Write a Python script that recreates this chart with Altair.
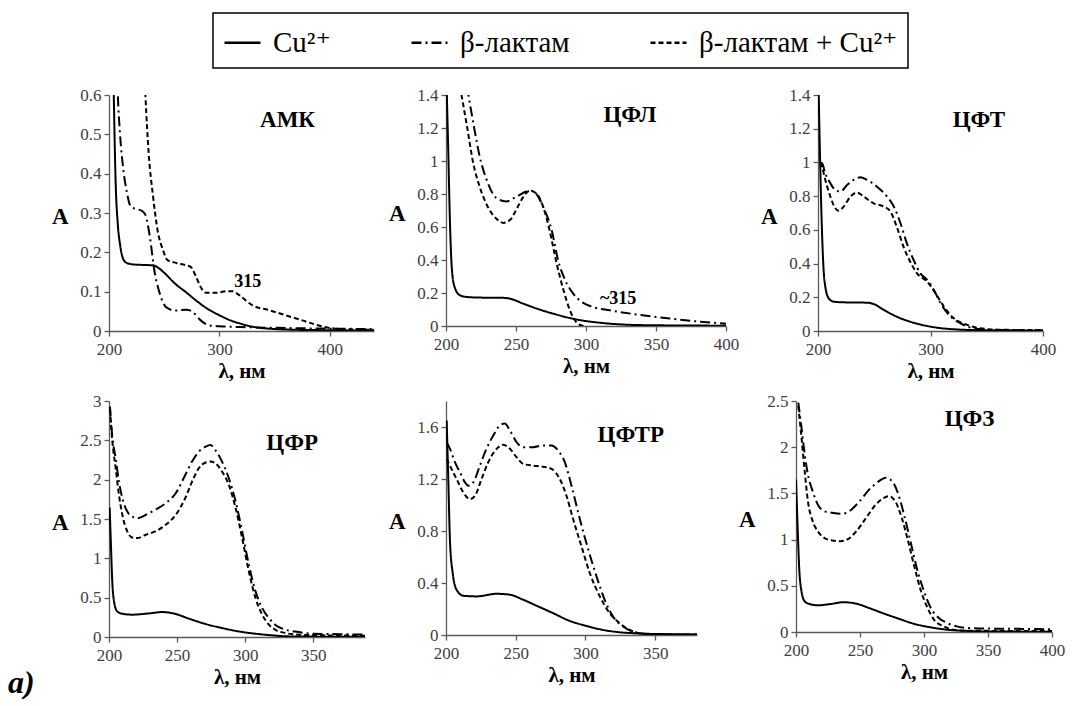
import altair as alt
import pandas as pd

FONT = "Liberation Serif, Times New Roman, DejaVu Serif, serif"
SERIES = ["Cu²⁺", "β-лактам", "β-лактам + Cu²⁺"]
DASHES = [[1, 0], [10, 4, 2, 4], [5, 3]]

# ---------------- АМК ----------------
amk_wl_cu = [202, 204, 206, 208, 210, 212, 215, 220, 230, 240, 245, 250, 260, 270, 280, 290, 300, 310, 320, 330, 340, 350, 370, 400, 440]
amk_a_cu = [1.0, 0.65, 0.38, 0.27, 0.22, 0.19, 0.175, 0.17, 0.168, 0.167, 0.16, 0.148, 0.12, 0.098, 0.075, 0.055, 0.04, 0.027, 0.018, 0.011, 0.007, 0.005, 0.003, 0.002, 0.001]
amk_wl_bl = [206, 208, 210, 213, 216, 220, 225, 230, 233, 237, 241, 246, 252, 260, 270, 276, 283, 291, 300, 320, 350, 400, 440]
amk_a_bl = [0.8, 0.6, 0.5, 0.41, 0.355, 0.315, 0.31, 0.305, 0.295, 0.24, 0.155, 0.095, 0.06, 0.052, 0.054, 0.048, 0.027, 0.014, 0.012, 0.01, 0.008, 0.006, 0.005]
amk_wl_blcu = [231, 233, 236, 240, 244, 249, 253, 261, 270, 274, 279, 283, 288, 297, 306, 312, 318, 330, 345, 360, 375, 390, 405, 440]
amk_a_blcu = [0.75, 0.6, 0.45, 0.34, 0.256, 0.205, 0.18, 0.173, 0.167, 0.163, 0.137, 0.112, 0.097, 0.097, 0.101, 0.101, 0.091, 0.065, 0.053, 0.04, 0.027, 0.014, 0.006, 0.003]

# ---------------- ЦФЛ ----------------
cfl_wl_cu = [200, 201.5, 203, 204, 206, 210, 215, 225, 240, 246, 255, 265, 279, 293, 312, 336, 370, 400]
cfl_a_cu = [1.6, 1.1, 0.58, 0.37, 0.24, 0.186, 0.176, 0.172, 0.171, 0.165, 0.136, 0.105, 0.069, 0.04, 0.018, 0.006, 0.003, 0.002]
cfl_wl_bl = [215, 219.5, 224, 230, 236, 243, 250.5, 257.5, 261, 265, 269.5, 275.5, 280, 285, 291, 298, 305, 317, 336, 360, 384, 400]
cfl_a_bl = [1.45, 1.23, 1.03, 0.865, 0.775, 0.755, 0.785, 0.815, 0.82, 0.795, 0.72, 0.58, 0.40, 0.28, 0.195, 0.14, 0.115, 0.095, 0.07, 0.045, 0.024, 0.014]
cfl_wl_blcu = [210, 215, 219.5, 224, 230, 236, 241, 246, 250.5, 255, 260, 265, 269.5, 274, 279, 284, 288.5, 293, 297, 299]
cfl_a_blcu = [1.45, 1.21, 0.985, 0.845, 0.72, 0.65, 0.625, 0.645, 0.71, 0.78, 0.82, 0.80, 0.72, 0.58, 0.38, 0.215, 0.095, 0.024, 0.003, 0.0]

# ---------------- ЦФТ ----------------
cft_wl_cu = [200.5, 202, 203.6, 205, 206.5, 209.5, 214, 223, 243.6, 249.5, 258.5, 270, 285, 300, 321, 350, 400]
cft_a_cu = [1.45, 0.975, 0.58, 0.36, 0.263, 0.194, 0.174, 0.17, 0.168, 0.16, 0.125, 0.085, 0.049, 0.026, 0.01, 0.004, 0.002]
cft_wl_bl = [202, 203.6, 206.5, 211, 215.4, 220, 225.8, 231.8, 237.7, 243.6, 252.5, 261.4, 267.4, 273.3, 279, 285, 291, 297, 303, 309, 318, 326.7, 335.6, 344.5, 360, 400]
cft_a_bl = [1.0, 0.995, 0.935, 0.876, 0.836, 0.827, 0.866, 0.896, 0.912, 0.896, 0.856, 0.797, 0.738, 0.639, 0.52, 0.421, 0.342, 0.303, 0.243, 0.164, 0.085, 0.045, 0.02, 0.01, 0.006, 0.004]
cft_wl_blcu = [202, 203.6, 206.5, 211, 215.4, 218.4, 222.8, 228.8, 234.7, 240.7, 249.5, 258.5, 264.4, 270, 276, 282, 288, 297, 304.5, 312, 320.8, 332.6, 344.5, 360, 400]
cft_a_blcu = [1.0, 0.975, 0.896, 0.797, 0.728, 0.714, 0.738, 0.797, 0.821, 0.797, 0.757, 0.738, 0.708, 0.619, 0.5, 0.411, 0.342, 0.293, 0.223, 0.144, 0.075, 0.036, 0.016, 0.008, 0.005]

# ---------------- ЦФР ----------------
cfr_wl_cu = [200.5, 201.5, 202.4, 203.7, 206, 209.8, 217, 229.3, 239, 249, 258.7, 271, 283, 295, 307.6, 319.8, 332, 360, 388]
cfr_a_cu = [1.646, 1.13, 0.707, 0.453, 0.326, 0.296, 0.284, 0.3, 0.317, 0.292, 0.233, 0.165, 0.114, 0.072, 0.042, 0.021, 0.008, 0.004, 0.002]
cfr_wl_bl = [200.7, 202.4, 204.9, 207.3, 209.8, 213.4, 217, 220.8, 227, 234, 241.6, 249, 256, 261, 266, 271, 274.6, 278, 283, 288, 293, 297.8, 302.7, 307.6, 312.5, 317.4, 322, 329.6, 339, 349, 361, 388]
cfr_a_bl = [2.93, 2.55, 2.27, 1.976, 1.765, 1.595, 1.532, 1.51, 1.553, 1.617, 1.70, 1.828, 2.06, 2.23, 2.357, 2.42, 2.44, 2.378, 2.23, 2.018, 1.722, 1.342, 0.918, 0.58, 0.368, 0.241, 0.157, 0.093, 0.063, 0.042, 0.038, 0.03]
cfr_wl_blcu = [200.7, 202.4, 204.9, 207.3, 209.8, 213.4, 217, 220.8, 227, 234, 241.6, 249, 256, 261, 266, 271, 274.6, 278, 283, 288, 293, 297.8, 302.7, 307.6, 312.5, 317.4, 322, 329.6, 339, 356.5, 388]
cfr_a_blcu = [2.9, 2.5, 2.146, 1.807, 1.553, 1.342, 1.265, 1.257, 1.3, 1.342, 1.426, 1.553, 1.765, 1.976, 2.146, 2.218, 2.23, 2.21, 2.103, 1.934, 1.638, 1.257, 0.834, 0.495, 0.284, 0.157, 0.093, 0.05, 0.03, 0.021, 0.017]

# ---------------- ЦФТР ----------------
cftr_wl_cu = [200.5, 201.7, 202.9, 204.8, 207.6, 212.4, 222, 236.3, 245.8, 255.4, 265, 276.8, 288.8, 300.7, 312.6, 324.6, 336.5, 348.4, 380]
cftr_a_cu = [1.65, 1.174, 0.71, 0.477, 0.348, 0.302, 0.297, 0.317, 0.31, 0.271, 0.225, 0.168, 0.108, 0.07, 0.039, 0.021, 0.013, 0.008, 0.004]
cftr_wl_bl = [200.5, 202.9, 206.4, 210, 213.6, 216, 219.6, 224.3, 229, 233.9, 238.7, 242.2, 245.8, 250.6, 255.4, 262.5, 269.7, 275.7, 280.4, 285.2, 290, 296, 302, 307.9, 313.8, 319.8, 327, 334, 343.7, 380]
cftr_a_bl = [1.48, 1.432, 1.329, 1.252, 1.174, 1.148, 1.174, 1.303, 1.432, 1.535, 1.613, 1.626, 1.574, 1.484, 1.445, 1.445, 1.458, 1.458, 1.419, 1.329, 1.148, 0.89, 0.658, 0.452, 0.271, 0.142, 0.065, 0.026, 0.008, 0.003]
cftr_wl_blcu = [200.5, 204, 207.6, 212.4, 217.2, 220.8, 225.5, 230.3, 236.3, 241, 245.8, 250.6, 255.4, 262.5, 269.7, 275.7, 281.6, 286.4, 291.2, 297.1, 303.1, 310.3, 317.4, 324.6, 331.7, 338.9, 348.4, 380]
cftr_a_blcu = [1.355, 1.277, 1.2, 1.097, 1.045, 1.071, 1.2, 1.329, 1.432, 1.463, 1.432, 1.368, 1.316, 1.303, 1.295, 1.277, 1.2, 1.071, 0.89, 0.684, 0.477, 0.297, 0.168, 0.09, 0.039, 0.013, 0.005, 0.003]

# ---------------- ЦФЗ ----------------
cfz_wl_cu = [200, 201.3, 202.5, 204.3, 206.8, 210.6, 217, 227, 237, 247, 257, 267.4, 280, 292.7, 305, 318, 330.6, 343, 400]
cfz_a_cu = [1.65, 1.127, 0.694, 0.44, 0.332, 0.303, 0.289, 0.303, 0.322, 0.307, 0.26, 0.206, 0.145, 0.087, 0.051, 0.025, 0.014, 0.007, 0.003]
cfz_wl_bl = [201.8, 204.3, 206.8, 209.3, 213, 217, 222, 228.3, 235.9, 243.4, 249.7, 257.3, 264.9, 270, 275, 280, 285, 290, 295, 300, 305.3, 311.6, 318, 325.5, 335.6, 355.8, 381, 400]
cfz_a_bl = [2.482, 2.211, 1.922, 1.705, 1.525, 1.38, 1.308, 1.29, 1.279, 1.326, 1.416, 1.543, 1.633, 1.669, 1.633, 1.488, 1.236, 0.947, 0.658, 0.441, 0.26, 0.152, 0.098, 0.061, 0.043, 0.036, 0.033, 0.03]
cfz_wl_blcu = [201.8, 204.3, 206.8, 209.3, 213, 217, 222, 228.3, 234.6, 240.9, 247.2, 254.8, 262.4, 268.7, 272.5, 277.5, 282.6, 287.6, 292.7, 297.7, 302.8, 307.8, 315.4, 323, 333, 400]
cfz_a_blcu = [2.446, 2.103, 1.741, 1.416, 1.2, 1.091, 1.019, 0.99, 0.983, 1.008, 1.091, 1.236, 1.38, 1.452, 1.47, 1.416, 1.236, 0.983, 0.694, 0.441, 0.26, 0.134, 0.061, 0.025, 0.014, 0.01]

PANEL_NAMES = ["АМК", "ЦФЛ", "ЦФТ", "ЦФР", "ЦФТР", "ЦФЗ"]


def series_df(*arrays):
    rows = []
    for i, name in enumerate(SERIES):
        for x, y in zip(arrays[2 * i], arrays[2 * i + 1]):
            rows.append({"wl": x, "A": y, "series": name})
    return pd.DataFrame(rows)


LEGEND = alt.Legend(
    title=None, orient="none", legendX=104, legendY=-82, offset=0, direction="horizontal",
    columns=3, gridAlign="each", columnPadding=75, padding=10,
    strokeColor="black",
    symbolType="stroke", symbolSize=1296, symbolStrokeWidth=2.5, symbolStrokeColor="black",
    labelFont=FONT, labelFontSize=29, labelColor="black", labelOffset=11, labelLimit=500,
)

LABEL_EXPR = "'' + datum.value"


def panel(df, name, name_pos, xdom, xvals, ydom, yvals, w, h, note=None, extra=None):
    xenc = alt.X("wl:Q", scale=alt.Scale(domain=xdom, nice=False, zero=False),
                 axis=alt.Axis(values=xvals, title="λ, нм", labelExpr=LABEL_EXPR,
                               labelFlush=False))
    yenc = alt.Y("A:Q", scale=alt.Scale(domain=ydom, nice=False, zero=False),
                 axis=alt.Axis(values=yvals, title="A", labelExpr=LABEL_EXPR, titleAngle=0,
                               titleAlign="right", titleBaseline="middle", titleFontSize=23,
                               titleX=-41, titleY=h / 2 + 3, labelPadding=3))
    lines = alt.Chart(df).mark_line(clip=True, strokeWidth=2, color="black",
                                    interpolate="monotone").encode(
        x=xenc, y=yenc,
        strokeDash=alt.StrokeDash("series:N", scale=alt.Scale(domain=SERIES, range=DASHES),
                                  legend=LEGEND),
    )
    lab = pd.DataFrame({"wl": [name_pos[0]], "A": [name_pos[1]], "t": [name]})
    layers = [lines,
              alt.Chart(lab).mark_text(font=FONT, fontSize=23, fontWeight="bold",
                                       color="black").encode(x=xenc, y=yenc, text="t:N")]
    if note is not None:
        nd = pd.DataFrame({"wl": [note[0]], "A": [note[1]], "t": [note[2]]})
        layers.append(alt.Chart(nd).mark_text(font=FONT, fontSize=18, fontWeight="bold",
                                              color="black").encode(x=xenc, y=yenc, text="t:N"))
    if extra is not None:
        layers.append(extra)
    return alt.layer(*layers).properties(width=w, height=h)


def spacer(w):
    return alt.Chart(pd.DataFrame({"v": [0]})).mark_point(opacity=0, size=1).encode(
        x=alt.value(0), y=alt.value(5)).properties(width=w, height=10)


p1 = panel(series_df(amk_wl_cu, amk_a_cu, amk_wl_bl, amk_a_bl, amk_wl_blcu, amk_a_blcu),
           PANEL_NAMES[0], (361.7, 0.536), [200, 440], [200, 300, 400],
           [0, 0.6], [0, 0.1, 0.2, 0.3, 0.4, 0.5, 0.6], 265, 236,
           note=(325.6, 0.125, "315"))
p2 = panel(series_df(cfl_wl_cu, cfl_a_cu, cfl_wl_bl, cfl_a_bl, cfl_wl_blcu, cfl_a_blcu),
           PANEL_NAMES[1], (331.4, 1.279), [200, 400], [200, 250, 300, 350, 400],
           [0, 1.4], [0, 0.2, 0.4, 0.6, 0.8, 1, 1.2, 1.4], 280, 231,
           note=(323, 0.166, "~315"))
p3 = panel(series_df(cft_wl_cu, cft_a_cu, cft_wl_bl, cft_a_bl, cft_wl_blcu, cft_a_blcu),
           PANEL_NAMES[2], (343, 1.252), [200, 400], [200, 300, 400],
           [0, 1.4], [0, 0.2, 0.4, 0.6, 0.8, 1, 1.2, 1.4], 225, 236)

a_label = alt.Chart(pd.DataFrame({"t": ["a)"]})).mark_text(
    font=FONT, fontSize=32, fontWeight="bold", fontStyle="italic",
    align="left", baseline="alphabetic", color="black").encode(
    x=alt.value(-101), y=alt.value(292), text="t:N")

p4 = panel(series_df(cfr_wl_cu, cfr_a_cu, cfr_wl_bl, cfr_a_bl, cfr_wl_blcu, cfr_a_blcu),
           PANEL_NAMES[3], (334.5, 2.463), [200, 388], [200, 250, 300, 350],
           [0, 3], [0, 0.5, 1, 1.5, 2, 2.5, 3], 256, 236, extra=a_label)
p5 = panel(series_df(cftr_wl_cu, cftr_a_cu, cftr_wl_bl, cftr_a_bl, cftr_wl_blcu, cftr_a_blcu),
           PANEL_NAMES[4], (332.5, 1.54), [200, 380], [200, 250, 300, 350],
           [0, 1.8], [0, 0.4, 0.8, 1.2, 1.6], 251, 234)
p6 = panel(series_df(cfz_wl_cu, cfz_a_cu, cfz_wl_bl, cfz_a_bl, cfz_wl_blcu, cfz_a_blcu),
           PANEL_NAMES[5], (335.6, 2.301), [200, 400], [200, 250, 300, 350, 400],
           [0, 2.5], [0, 0.5, 1, 1.5, 2, 2.5], 256, 231)

row1 = alt.hconcat(p1, spacer(72), p2, spacer(92), p3, spacing=0, bounds="flush")
row2 = alt.hconcat(p4, spacer(81), p5, spacer(99), p6, spacing=0, bounds="flush")

chart = alt.vconcat(
    row1, row2, spacing=306, bounds="flush"
).resolve_scale(
    x="independent", y="independent", strokeDash="shared"
).properties(
    padding={"left": 0, "top": 4, "right": 0, "bottom": 0}
).configure_view(
    stroke=None
).configure_legend(
    strokeWidth=1.5
).configure_axis(
    grid=False, labelFont=FONT, labelFontSize=17, labelColor="#404040",
    titleFont=FONT, titleFontSize=21, titleFontWeight="bold", titleColor="black",
    domainColor="#5a5a5a", domainWidth=1.3, tickColor="#5a5a5a", tickWidth=1.3,
    tickSize=5, labelPadding=5, titlePadding=3,
)

chart.save("out.html", embed_options={"renderer": "svg", "actions": False})
